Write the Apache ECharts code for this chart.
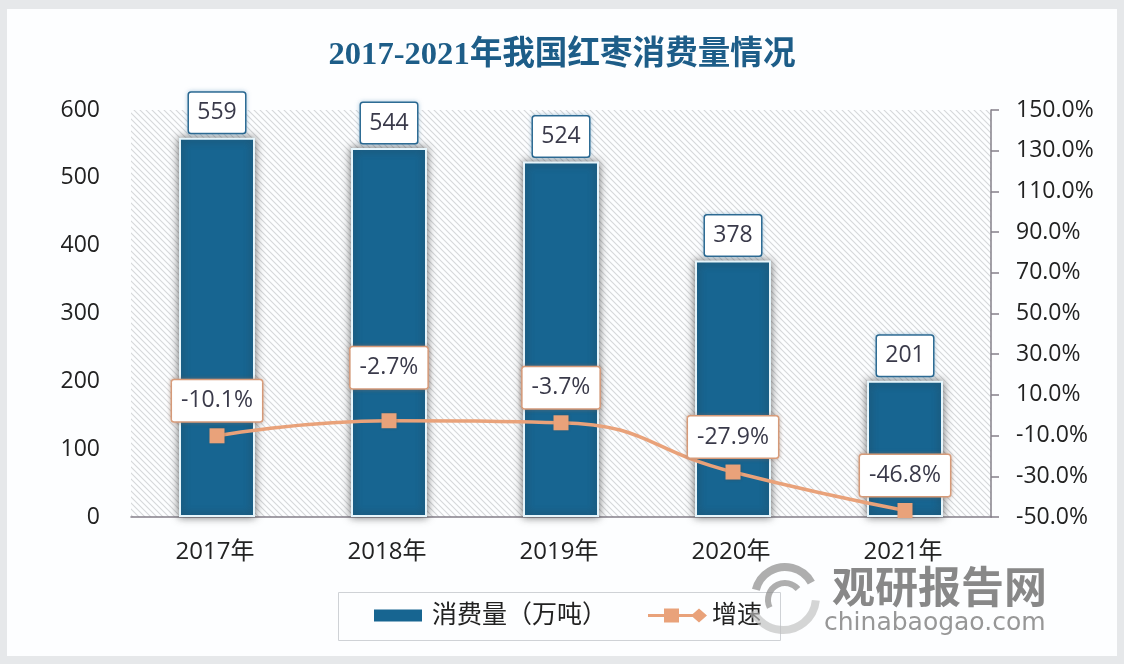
<!DOCTYPE html>
<html>
<head>
<meta charset="utf-8">
<title>2017-2021年我国红枣消费量情况</title>
<script src="https://cdn.jsdelivr.net/npm/echarts@6/dist/echarts.min.js"></script>
<style>
  html, body { margin: 0; padding: 0; background: #e6e8ea; }
  #card { position: absolute; left: 7px; top: 9px; width: 1110px; height: 647px; background: #fdfeff; }
  #chart { position: absolute; left: 0; top: 0; width: 1124px; height: 664px; }
</style>
</head>
<body>
<div id="card"></div>
<div id="chart"></div>
<script>
const categories = ['2017年', '2018年', '2019年', '2020年', '2021年']
const consumption = [559, 544, 524, 378, 201]
const growth = [-10.1, -2.7, -3.7, -27.9, -46.8]
const growthTicks = [-50, -30, -10, 10, 30, 50, 70, 90, 110, 130, 150]

const fontFamily = '"Open Sans", "Noto Sans CJK SC", sans-serif'
const barColor = '#176591'
const lineColor = '#e9a27a'

// 斜线底纹
function makeHatch() {
  const size = 6
  const c = document.createElement('canvas')
  c.width = size
  c.height = size
  const ctx = c.getContext('2d')
  ctx.fillStyle = '#fdfeff'
  ctx.fillRect(0, 0, size, size)
  ctx.strokeStyle = '#d6d8da'
  ctx.lineWidth = 1.1
  ctx.beginPath()
  ctx.moveTo(-1, -1)
  ctx.lineTo(size + 1, size + 1)
  ctx.moveTo(-1, size - 1)
  ctx.lineTo(1, size + 1)
  ctx.moveTo(size - 1, -1)
  ctx.lineTo(size + 1, 1)
  ctx.stroke()
  return c
}

// 2018 年的标签离点更远
function growthLabelDistance(i) {
  return i === 1 ? 25 : 7
}

const chart = echarts.init(document.getElementById('chart'), null, { renderer: 'canvas' })

chart.setOption({
  animation: false,
  backgroundColor: 'transparent',
  title: {
    text: '2017-2021年我国红枣消费量情况',
    left: 'center',
    top: 34,
    textStyle: {
      fontFamily: '"Liberation Serif", "Noto Sans CJK SC", serif',
      fontSize: 32.6,
      fontWeight: 'bold',
      color: '#1d5d88'
    }
  },
  grid: {
    left: 131,
    right: 133,
    top: 110,
    bottom: 147,
    show: true,
    borderWidth: 0,
    backgroundColor: { image: makeHatch(), repeat: 'repeat' }
  },
  legend: [
    {
      left: 374,
      top: 603,
      padding: 0,
      data: [{ name: '消费量（万吨）', icon: 'rect' }],
      itemWidth: 48,
      itemHeight: 12,
      itemStyle: { borderWidth: 0, shadowBlur: 0 },
      textStyle: { fontFamily, fontSize: 25, color: '#222', padding: [0, 0, 0, 5] }
    },
    {
      left: 648,
      top: 603,
      padding: 0,
      data: [{
        name: '增速',
        // 图例：线 + 方块 + 菱形
        icon: 'path://M0 5.5H45V8.5H0ZM16 0H31V14H16ZM43 7L51 0L59 7L51 14Z'
      }],
      itemWidth: 59,
      itemHeight: 14,
      itemStyle: { borderWidth: 0, shadowBlur: 0 },
      textStyle: { fontFamily, fontSize: 25, color: '#222' }
    }
  ],
  xAxis: {
    type: 'category',
    data: categories,
    axisLine: { lineStyle: { color: '#85808a', width: 1.5 } },
    axisTick: { show: false },
    axisLabel: { fontFamily, fontSize: 24, color: '#222', margin: 23, padding: [0, 4, 0, 0] }
  },
  yAxis: [
    {
      type: 'value',
      min: 0,
      max: 600,
      interval: 100,
      splitLine: { show: false },
      axisLine: { show: false },
      axisTick: { show: false },
      axisLabel: { fontFamily, fontSize: 23, color: '#222', margin: 31 }
    },
    {
      type: 'value',
      position: 'right',
      min: -50,
      max: 150,
      splitLine: { show: false },
      axisLine: { show: true, lineStyle: { color: '#85808a', width: 1.5 } },
      axisTick: {
        show: true,
        length: 8,
        customValues: growthTicks,
        lineStyle: { color: '#85808a', width: 1.5 }
      },
      axisLabel: {
        fontFamily,
        fontSize: 23,
        color: '#222',
        margin: 25,
        customValues: growthTicks,
        formatter: v => v.toFixed(1) + '%'
      }
    }
  ],
  series: [
    {
      name: '消费量（万吨）',
      type: 'bar',
      data: consumption,
      barWidth: 76,
      itemStyle: {
        color: barColor,
        borderColor: '#e6f5fb',
        borderWidth: 2,
        shadowColor: 'rgba(50,50,50,0.7)',
        shadowBlur: 8,
        shadowOffsetX: 0,
        shadowOffsetY: 0
      },
      label: {
        show: true,
        position: 'top',
        distance: 5,
        fontFamily,
        fontSize: 23,
        color: '#3a3a4a',
        width: 56,
        height: 40,
        lineHeight: 40,
        align: 'center',
        backgroundColor: '#fff',
        borderColor: '#1d5d88',
        borderWidth: 1.5,
        borderRadius: 2,
        shadowColor: 'rgba(120,170,200,0.5)',
        shadowBlur: 4
      }
    },
    {
      name: '增速',
      type: 'line',
      yAxisIndex: 1,
      data: growth.map((v, i) => ({ value: v, label: { distance: growthLabelDistance(i) } })),
      smooth: true,
      symbol: 'rect',
      symbolSize: 15,
      z: 5,
      lineStyle: { color: lineColor, width: 3.5 },
      itemStyle: { color: lineColor, shadowColor: 'rgba(90,60,40,0.45)', shadowBlur: 3 },
      label: {
        show: true,
        position: 'top',
        fontFamily,
        fontSize: 23,
        color: '#3a3a4a',
        padding: [0, 9],
        height: 41,
        lineHeight: 41,
        backgroundColor: '#fff',
        borderColor: '#e2a37f',
        borderWidth: 1.5,
        borderRadius: 2,
        shadowColor: 'rgba(150,110,90,0.4)',
        shadowBlur: 4,
        formatter: p => p.value.toFixed(1) + '%'
      }
    }
  ],
  graphic: [
    // 图例边框
    {
      type: 'rect',
      z: -1,
      shape: { x: 338.5, y: 592.5, width: 442, height: 48 },
      style: { fill: 'transparent', stroke: '#cfd2d6', lineWidth: 1 }
    },
    // 水印
    {
      type: 'arc',
      z: 20,
      shape: { cx: 785, cy: 597, r: 30, startAngle: -2.9, endAngle: -0.5 },
      style: { stroke: 'rgba(140,140,140,0.7)', lineWidth: 8, fill: 'none' }
    },
    {
      type: 'arc',
      z: 20,
      shape: { cx: 785, cy: 600, r: 17, startAngle: -3.6, endAngle: -0.7 },
      style: { stroke: 'rgba(140,140,140,0.7)', lineWidth: 6, fill: 'none' }
    },
    {
      type: 'arc',
      z: 20,
      shape: { cx: 783, cy: 597, r: 33, startAngle: 0.1, endAngle: 2.7 },
      style: { stroke: 'rgba(190,190,190,0.65)', lineWidth: 8, fill: 'none' }
    },
    {
      type: 'text',
      z: 20,
      style: {
        x: 832,
        y: 587,
        text: '观研报告网',
        fill: 'rgba(130,130,130,0.95)',
        font: 'bold 43px "Noto Sans CJK SC", sans-serif',
        verticalAlign: 'middle'
      }
    },
    {
      type: 'text',
      z: 20,
      style: {
        x: 824,
        y: 623,
        text: 'chinabaogao.com',
        fill: 'rgba(140,140,140,0.9)',
        font: '25px "DejaVu Sans", sans-serif',
        verticalAlign: 'middle'
      }
    }
  ]
})
</script>
</body>
</html>
